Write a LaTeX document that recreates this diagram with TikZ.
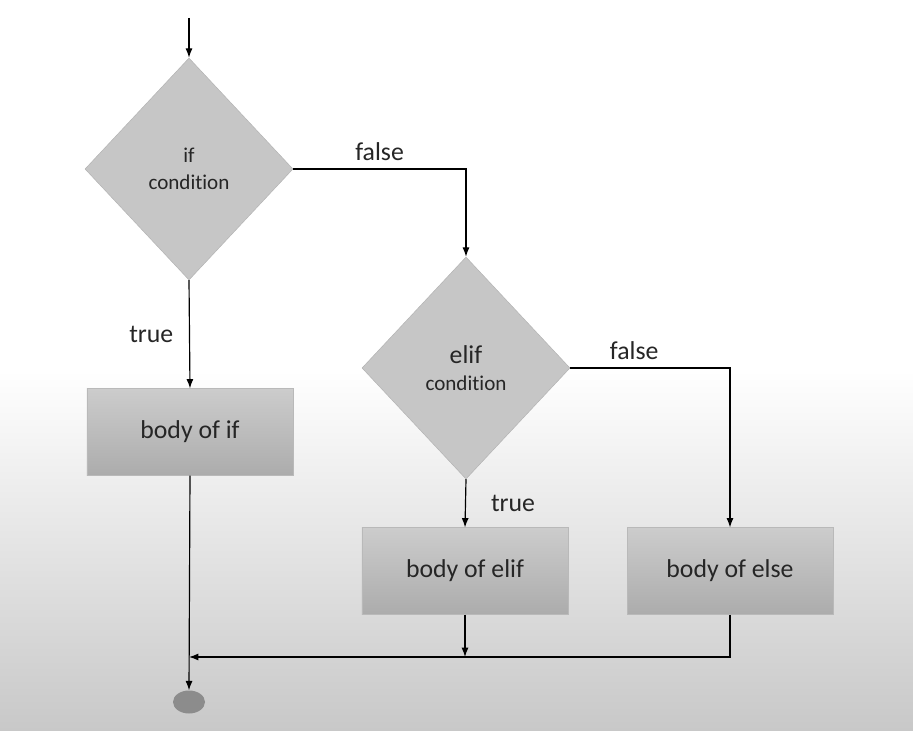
\documentclass[tikz,border=0pt]{standalone}
\usepackage{fontspec}
\setmainfont[Ligatures=NoCommon]{Carlito}
\usetikzlibrary{shapes.geometric,arrows.meta}
\definecolor{diafill}{RGB}{198,198,198}
\definecolor{diaedge}{RGB}{178,178,178}
\definecolor{boxtop}{RGB}{204,204,204}
\definecolor{boxbot}{RGB}{172,172,172}
\definecolor{boxedge}{RGB}{185,185,185}
\definecolor{bggrey}{RGB}{200,200,200}
\definecolor{endgrey}{RGB}{140,140,140}
\definecolor{txtgrey}{RGB}{38,38,38}
\tikzset{
  decision/.style={diamond, draw=diaedge, fill=diafill, minimum width=6.24cm,
    minimum height=6.66cm, inner sep=0pt, align=center, text=txtgrey,
    font=\fontsize{18}{23}\selectfont},
  bodybox/.style={rectangle, draw=boxedge, top color=boxtop, bottom color=boxbot,
    minimum width=6.18cm, minimum height=2.6cm, text=txtgrey,
    font=\fontsize{22}{26}\selectfont},
  flow/.style={-{Latex[length=8pt,width=6pt]}, line width=1pt},
  lbl/.style={text=txtgrey, font=\fontsize{22}{26}\selectfont}
}
\begin{document}
\begin{tikzpicture}[x=0.03cm,y=-0.03cm]
  % Draw background
  \useasboundingbox (0,0) rectangle (913,731);
  \fill[white] (0,0) rectangle (913,731);
  \shade[top color=white,bottom color=bggrey] (0,370) rectangle (913,731);
  % Draw decisions
  \node[decision] (ifcond) at (189,169) {if\\condition};
  \node[decision] (elifcond) at (466,368) {{\fontsize{22}{23}\selectfont elif}\\condition};
  % Draw bodies
  \node[bodybox] (ifbody) at (190,432) {body of if};
  \node[bodybox] (elifbody) at (465,571) {body of elif};
  \node[bodybox] (elsebody) at (730,571) {body of else};
  % Draw end point
  \node[ellipse, fill=endgrey, minimum width=0.96cm, minimum height=0.69cm,
        inner sep=0pt] (stop) at (189,702) {};
  \coordinate (start) at (189,18);
  \coordinate (merge) at (189,657);
  % Draw connectors
  \draw[flow] (start) -- (ifcond.north);
  \draw[flow] (ifcond.east) -| node[pos=0.25,above=3pt,lbl] {false} (elifcond.north);
  \draw[flow] (ifcond.south) -- node[left=10pt,lbl] {true} (ifbody.north);
  \draw[flow] (elifcond.east) -| node[pos=0.2,above=3pt,lbl] {false} (elsebody.north);
  \draw[flow] (elifcond.south) -- node[right=18pt,lbl] {true} (elifbody.north);
  \draw[flow] (ifbody.south) -- (stop.north);
  \draw[flow] (elsebody.south) |- (merge);
  \draw[flow] (elifbody.south) -- (elifbody.south |- merge);
\end{tikzpicture}
\end{document}
